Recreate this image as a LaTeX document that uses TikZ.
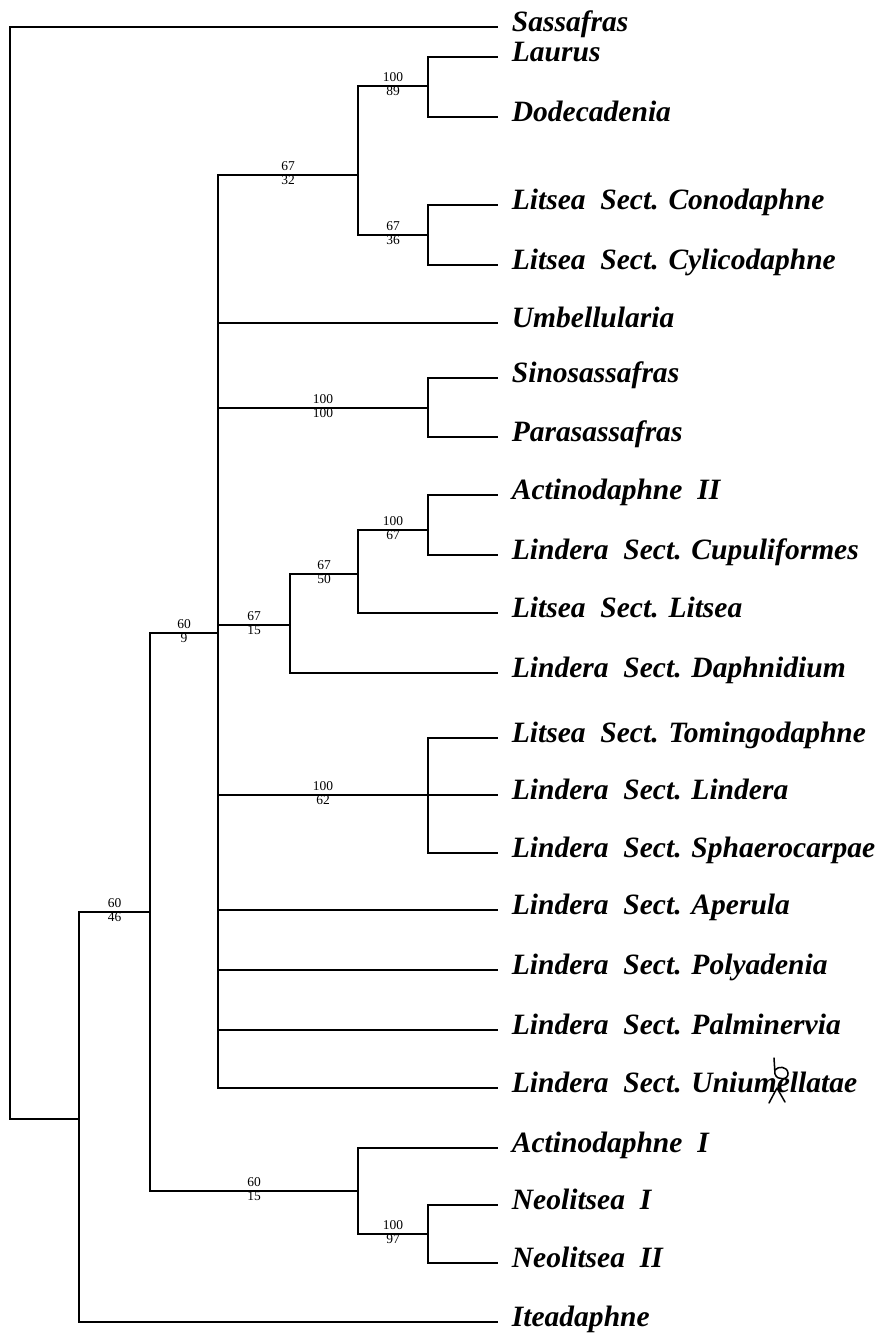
\documentclass[tikz,border=0pt]{standalone}
\usepackage{fontspec}
\setmainfont{Liberation Serif}
\usepackage{tikz}
\tikzset{
    taxon/.style={anchor=west, inner xsep=4.4mm, inner ysep=0pt, text height=16pt, text depth=9pt,
        font=\fontsize{25.2}{28}\selectfont\bfseries\itshape},
    branch/.style={draw, line width=1.1pt, line cap=rect},
    hi/.style={pos=0.75, anchor=south, inner sep=0pt, yshift=1.1mm, font=\fontsize{11.5}{12}\selectfont},
    lo/.style={pos=0.75, anchor=north, inner sep=0pt, yshift=0.1mm, font=\fontsize{11.5}{12}\selectfont},
    scrawl/.style={line width=1.3pt, line cap=round, line join=round},
}

\begin{document}
\begin{tikzpicture}[x=0.3mm, y=-0.3mm]
    \useasboundingbox (0,0) rectangle (880,1339);
    % leaves
    \node[taxon] (sas)  at (497,27)   {Sassafras};
    \node[taxon] (lau)  at (497,57)   {Laurus};
    \node[taxon] (dod)  at (497,117)  {Dodecadenia};
    \node[taxon] (con)  at (497,205)  {Litsea~ Sect. Conodaphne};
    \node[taxon] (cyl)  at (497,265)  {Litsea~ Sect. Cylicodaphne};
    \node[taxon] (umb)  at (497,323)  {Umbellularia};
    \node[taxon] (sino) at (497,378)  {Sinosassafras};
    \node[taxon] (para) at (497,437)  {Parasassafras};
    \node[taxon] (act2) at (497,495)  {Actinodaphne~ II};
    \node[taxon] (cupu) at (497,555)  {Lindera~ Sect. Cupuliformes};
    \node[taxon] (lits) at (497,613)  {Litsea~ Sect. Litsea};
    \node[taxon] (daph) at (497,673)  {Lindera~ Sect. Daphnidium};
    \node[taxon] (tomi) at (497,738)  {Litsea~ Sect. Tomingodaphne};
    \node[taxon] (lind) at (497,795)  {Lindera~ Sect. Lindera};
    \node[taxon] (spha) at (497,853)  {Lindera~ Sect. Sphaerocarpae};
    \node[taxon] (aper) at (497,910)  {Lindera~ Sect. Aperula};
    \node[taxon] (poly) at (497,970)  {Lindera~ Sect. Polyadenia};
    \node[taxon] (palm) at (497,1030) {Lindera~ Sect. Palminervia};
    \node[taxon] (uni)  at (497,1088) {Lindera~ Sect. Uniumellatae};
    \node[taxon] (act1) at (497,1148) {Actinodaphne~ I};
    \node[taxon] (neo1) at (497,1205) {Neolitsea~ I};
    \node[taxon] (neo2) at (497,1263) {Neolitsea~ II};
    \node[taxon] (itea) at (497,1322) {Iteadaphne};

    % internal nodes
    \coordinate (rt) at (10,1119);
    \coordinate (nA) at (79,1119);
    \coordinate (nB) at (150,912);
    \coordinate (nC) at (218,633);
    \coordinate (nD) at (358,1191);
    \coordinate (nE) at (358,175);
    \coordinate (nI) at (428,86);
    \coordinate (nJ) at (428,235);
    \coordinate (nF) at (428,408);
    \coordinate (nG) at (290,625);
    \coordinate (nK) at (358,574);
    \coordinate (nL) at (428,530);
    \coordinate (nH) at (428,795);
    \coordinate (nM) at (428,1234);

    % branches
    \path[branch] (rt) |- (sas.west) (rt) -- (nA);
    \path[branch] (nA) |- node[hi] {60} node[lo] {46} (nB) (nA) |- (itea.west);
    \path[branch] (nB) |- node[hi] {60} node[lo] {9} (nC);
    \path[branch] (nB) |- node[hi] {60} node[lo] {15} (nD);
    \path[branch] (nC) |- node[hi] {67} node[lo] {32} (nE);
    \path[branch] (nC) |- (umb.west);
    \path[branch] (nC) |- node[hi] {100} node[lo] {100} (nF);
    \path[branch] (nC) |- node[hi] {67} node[lo] {15} (nG);
    \path[branch] (nC) |- node[hi] {100} node[lo] {62} (nH);
    \path[branch] (nC) |- (aper.west) (nC) |- (poly.west) (nC) |- (palm.west) (nC) |- (uni.west);
    \path[branch] (nE) |- node[hi] {100} node[lo] {89} (nI);
    \path[branch] (nE) |- node[hi] {67} node[lo] {36} (nJ);
    \path[branch] (nI) |- (lau.west) (nI) |- (dod.west);
    \path[branch] (nJ) |- (con.west) (nJ) |- (cyl.west);
    \path[branch] (nF) |- (sino.west) (nF) |- (para.west);
    \path[branch] (nG) |- node[hi] {67} node[lo] {50} (nK);
    \path[branch] (nG) |- (daph.west);
    \path[branch] (nK) |- node[hi] {100} node[lo] {67} (nL);
    \path[branch] (nK) |- (lits.west);
    \path[branch] (nL) |- (act2.west) (nL) |- (cupu.west);
    \path[branch] (nH) |- (tomi.west) (nH) |- (lind.west) (nH) |- (spha.west);
    \path[branch] (nD) |- (act1.west);
    \path[branch] (nD) |- node[hi] {100} node[lo] {97} (nM);
    \path[branch] (nM) |- (neo1.west) (nM) |- (neo2.west);

    % handwritten correction
    \draw[scrawl] (774,1058) -- (775,1074) .. controls (777,1081) and (789,1080) .. (788,1073)
        .. controls (787,1066) and (778,1066) .. (775,1070);
    \draw[scrawl] (769,1103) -- (777,1088) -- (785,1102);
\end{tikzpicture}
\end{document}
